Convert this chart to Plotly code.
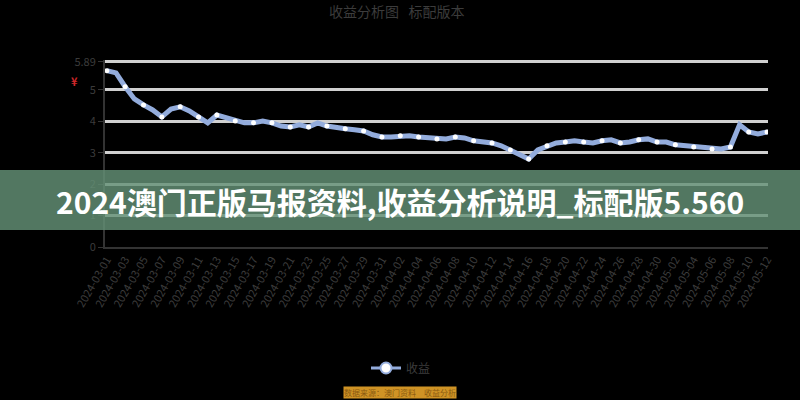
import plotly.graph_objects as go
import datetime as dt

# ---- data ----
start = dt.date(2024, 3, 1)
dates = [(start + dt.timedelta(days=i)).isoformat() for i in range(73)]
values = [5.61, 5.54, 5.10, 4.71, 4.52, 4.36, 4.14, 4.39, 4.46, 4.33,
          4.14, 3.95, 4.20, 4.11, 4.01, 3.95, 3.95, 4.01, 3.95, 3.85,
          3.82, 3.89, 3.82, 3.95, 3.85, 3.79, 3.76, 3.73, 3.69, 3.57,
          3.50, 3.50, 3.54, 3.54, 3.50, 3.47, 3.44, 3.44, 3.50, 3.47,
          3.38, 3.34, 3.31, 3.22, 3.09, 2.96, 2.80, 3.09, 3.22, 3.31,
          3.34, 3.38, 3.34, 3.31, 3.38, 3.41, 3.31, 3.34, 3.41, 3.44,
          3.34, 3.34, 3.25, 3.22, 3.18, 3.15, 3.12, 3.12, 3.18, 3.89,
          3.66, 3.60, 3.66]
y_ticks = [0, 1, 2, 3, 4, 5, 5.89]
y_tick_labels = ["0", "1", "2", "3", "4", "5", "5.89"]
series_name = "收益"
title_text = "收益分析图&nbsp;&nbsp;&nbsp;标配版本"
banner_text = "2024澳门正版马报资料,收益分析说明_标配版5.560"
source_text = "数据来源：澳门资料　收益分析"

marker_dates = dates[::2]
marker_values = values[::2]

LINE = "#93acdc"
TXT = "#3c3c3c"

# plot area in pixels: x 105..768, y 60..247
L, R, T, B = 105, 768, 60, 247
PW, PH = R - L, B - T


def px(x):
    return (x - L) / PW


def py(y):
    return (B - y) / PH


fig = go.Figure()
fig.add_trace(go.Scatter(x=dates, y=values, mode="lines",
                         line=dict(color=LINE, width=5), showlegend=False,
                         hoverinfo="skip"))
fig.add_trace(go.Scatter(x=marker_dates, y=marker_values, mode="markers",
                         marker=dict(color="white", size=5, line=dict(width=0)),
                         showlegend=False))
# legend entry
fig.add_trace(go.Scatter(x=[None], y=[None], mode="lines+markers", name=series_name,
                         line=dict(color=LINE, width=3),
                         marker=dict(color="white", size=11,
                                     line=dict(color=LINE, width=2))))

fig.update_layout(
    width=800, height=400,
    paper_bgcolor="black", plot_bgcolor="black",
    margin=dict(l=L, r=800 - R, t=T, b=400 - B, autoexpand=False),
    font=dict(family="Noto Sans CJK SC, Noto Sans, sans-serif", color=TXT, size=11),
    showlegend=True,
    legend=dict(orientation="h", x=px(366), xanchor="left", y=py(368), yanchor="middle",
                font=dict(size=12, color=TXT), bgcolor="rgba(0,0,0,0)",
                itemwidth=30),
    xaxis=dict(type="category", range=[-0.2, 72.1], showgrid=False,
               tickmode="array", tickvals=marker_dates, ticktext=marker_dates,
               tickangle=-60, tickfont=dict(size=11, color=TXT),
               showline=True, linecolor="#333333", linewidth=2,
               ticks="", zeroline=False, automargin=False),
    yaxis=dict(range=[0, 5.95], tickmode="array", tickvals=y_ticks,
               ticktext=y_tick_labels, showgrid=True, gridcolor="#d0d0d0",
               gridwidth=3, showline=True, linecolor="#333333", linewidth=2,
               ticks="outside", ticklen=5, tickcolor="#333333",
               tickfont=dict(size=11, color=TXT), zeroline=False, automargin=False),
    shapes=[dict(type="rect", xref="paper", yref="paper", x0=px(-10), x1=px(810),
                 y0=py(230), y1=py(170), fillcolor="rgba(100,145,118,0.82)",
                 line=dict(width=0), layer="above")],
    annotations=[
        dict(text=title_text, xref="paper", yref="paper", x=px(396), y=py(11),
             showarrow=False, xanchor="center", yanchor="middle",
             font=dict(size=14, color=TXT)),
        dict(text=banner_text, xref="paper", yref="paper", x=px(400), y=py(201),
             showarrow=False, xanchor="center", yanchor="middle",
             font=dict(size=30, color="white",
                       family="Noto Sans CJK SC, sans-serif", weight="bold")),
        dict(text="¥", xref="paper", yref="paper", x=px(74), y=py(81),
             showarrow=False, xanchor="center", yanchor="middle",
             font=dict(size=11, color="#d0282a", weight="bold")),
        dict(text=source_text, xref="paper", yref="paper", x=px(400), y=py(392),
             showarrow=False, xanchor="center", yanchor="middle",
             bgcolor="#cf9325", font=dict(size=8, color="#8a5a10"),
             borderpad=0),
    ],
)

fig.write_html(
    "out.html",
    config={"displayModeBar": False},
    post_script="document.body.style.margin='0';document.body.style.background='black';",
)
